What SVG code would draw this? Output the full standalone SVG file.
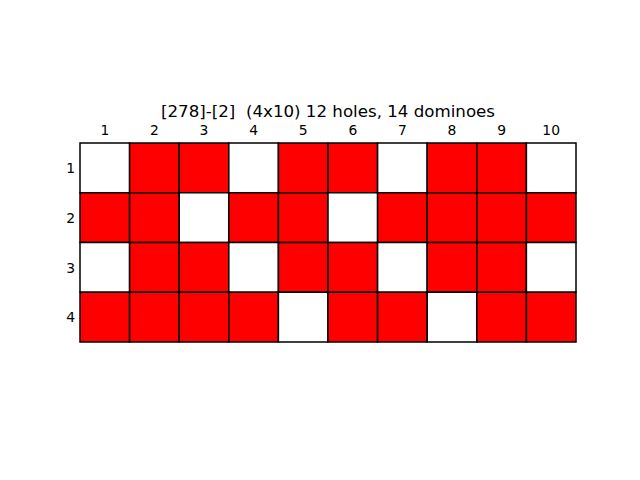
<svg xmlns="http://www.w3.org/2000/svg" width="640" height="480" viewBox="0 0 640 480">
<style>
.t{font-family:"DejaVu Sans",sans-serif;fill:#000}
.title{font-size:16.67px;text-anchor:middle;white-space:pre}
.c{font-size:13.9px;text-anchor:middle}
.r{font-size:13.9px;text-anchor:end}
.R{fill:#ff0000;stroke:#000;stroke-width:1.5}
.W{fill:#ffffff;stroke:#000;stroke-width:1.5}
</style>
<rect width="640" height="480" fill="#fff"/>
<text class="t title" x="328" y="117" xml:space="preserve">[278]-[2]  (4x10) 12 holes, 14 dominoes</text>
<g id="collabels">
<text class="t c" x="104.8" y="135">1</text>
<text class="t c" x="154.4" y="135">2</text>
<text class="t c" x="204" y="135">3</text>
<text class="t c" x="253.6" y="135">4</text>
<text class="t c" x="303.2" y="135">5</text>
<text class="t c" x="352.8" y="135">6</text>
<text class="t c" x="402.4" y="135">7</text>
<text class="t c" x="452" y="135">8</text>
<text class="t c" x="501.6" y="135">9</text>
<text class="t c" x="551.2" y="135">10</text>
</g>
<g id="rowlabels">
<text class="t r" x="75" y="173">1</text>
<text class="t r" x="75" y="222.7">2</text>
<text class="t r" x="75" y="272.5">3</text>
<text class="t r" x="75" y="322.2">4</text>
</g>
<g id="grid">
<rect class="W" x="80" y="143" width="49.6" height="49.75"/>
<rect class="R" x="129.6" y="143" width="49.6" height="49.75"/>
<rect class="R" x="179.2" y="143" width="49.6" height="49.75"/>
<rect class="W" x="228.8" y="143" width="49.6" height="49.75"/>
<rect class="R" x="278.4" y="143" width="49.6" height="49.75"/>
<rect class="R" x="328" y="143" width="49.6" height="49.75"/>
<rect class="W" x="377.6" y="143" width="49.6" height="49.75"/>
<rect class="R" x="427.2" y="143" width="49.6" height="49.75"/>
<rect class="R" x="476.8" y="143" width="49.6" height="49.75"/>
<rect class="W" x="526.4" y="143" width="49.6" height="49.75"/>

<rect class="R" x="80" y="192.75" width="49.6" height="49.75"/>
<rect class="R" x="129.6" y="192.75" width="49.6" height="49.75"/>
<rect class="W" x="179.2" y="192.75" width="49.6" height="49.75"/>
<rect class="R" x="228.8" y="192.75" width="49.6" height="49.75"/>
<rect class="R" x="278.4" y="192.75" width="49.6" height="49.75"/>
<rect class="W" x="328" y="192.75" width="49.6" height="49.75"/>
<rect class="R" x="377.6" y="192.75" width="49.6" height="49.75"/>
<rect class="R" x="427.2" y="192.75" width="49.6" height="49.75"/>
<rect class="R" x="476.8" y="192.75" width="49.6" height="49.75"/>
<rect class="R" x="526.4" y="192.75" width="49.6" height="49.75"/>

<rect class="W" x="80" y="242.5" width="49.6" height="49.75"/>
<rect class="R" x="129.6" y="242.5" width="49.6" height="49.75"/>
<rect class="R" x="179.2" y="242.5" width="49.6" height="49.75"/>
<rect class="W" x="228.8" y="242.5" width="49.6" height="49.75"/>
<rect class="R" x="278.4" y="242.5" width="49.6" height="49.75"/>
<rect class="R" x="328" y="242.5" width="49.6" height="49.75"/>
<rect class="W" x="377.6" y="242.5" width="49.6" height="49.75"/>
<rect class="R" x="427.2" y="242.5" width="49.6" height="49.75"/>
<rect class="R" x="476.8" y="242.5" width="49.6" height="49.75"/>
<rect class="W" x="526.4" y="242.5" width="49.6" height="49.75"/>

<rect class="R" x="80" y="292.25" width="49.6" height="49.75"/>
<rect class="R" x="129.6" y="292.25" width="49.6" height="49.75"/>
<rect class="R" x="179.2" y="292.25" width="49.6" height="49.75"/>
<rect class="R" x="228.8" y="292.25" width="49.6" height="49.75"/>
<rect class="W" x="278.4" y="292.25" width="49.6" height="49.75"/>
<rect class="R" x="328" y="292.25" width="49.6" height="49.75"/>
<rect class="R" x="377.6" y="292.25" width="49.6" height="49.75"/>
<rect class="W" x="427.2" y="292.25" width="49.6" height="49.75"/>
<rect class="R" x="476.8" y="292.25" width="49.6" height="49.75"/>
<rect class="R" x="526.4" y="292.25" width="49.6" height="49.75"/>
</g>
</svg>
